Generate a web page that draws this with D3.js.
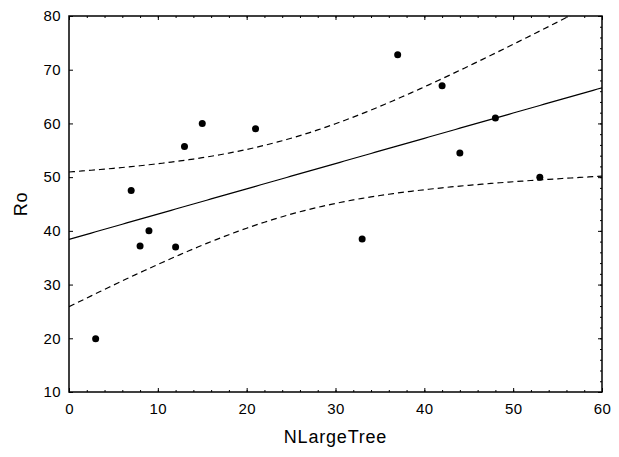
<!DOCTYPE html>
<html>
<head>
<meta charset="utf-8">
<script src="https://cdn.jsdelivr.net/npm/d3@7"></script>
<style>
  body { margin: 0; background: #fff; }
  text { font-family: "Liberation Sans", Arial, sans-serif; fill: #000; }
</style>
</head>
<body>
<div id="chart"></div>
<script>
// data
var nLargeTree = [3, 7, 8, 9, 12, 13, 15, 21, 33, 37, 42, 44, 48, 53];
var ro = [19.9, 47.5, 37.2, 40, 37, 55.7, 60, 59, 38.5, 72.8, 67, 54.5, 61, 50];
var xTicks = [0, 10, 20, 30, 40, 50, 60];
var yTicks = [10, 20, 30, 40, 50, 60, 70, 80];

var margin = {top: 16, right: 17, bottom: 65, left: 69},
    width = 619 - margin.left - margin.right,
    height = 457 - margin.top - margin.bottom;

var svg = d3.select("#chart").append("svg")
    .attr("width", 619)
    .attr("height", 457)
  .append("g")
    .attr("transform", "translate(" + margin.left + "," + margin.top + ")");

var x = d3.scaleLinear().domain([0, 60]).range([0, width]);
var y = d3.scaleLinear().domain([10, 80]).range([height, 0]);

// linear fit + 95% confidence band for the mean
var n = ro.length;
var mx = d3.mean(nLargeTree), my = d3.mean(ro);
var sxx = 0, sxy = 0;
nLargeTree.forEach(function(v, i) {
  sxx += (v - mx) * (v - mx);
  sxy += (v - mx) * (ro[i] - my);
});
var slope = sxy / sxx, icpt = my - slope * mx;
var sse = 0;
nLargeTree.forEach(function(v, i) {
  var r = ro[i] - (icpt + slope * v);
  sse += r * r;
});
var s = Math.sqrt(sse / (n - 2));
var t = 2.179; // t(0.975, 12)

var xs = d3.range(0, 60.01, 0.5);
var band = xs.map(function(v) {
  var fit = icpt + slope * v;
  var h = t * s * Math.sqrt(1 / n + (v - mx) * (v - mx) / sxx);
  return {x: v, fit: fit, lo: fit - h, hi: fit + h};
});

svg.append("clipPath").attr("id", "clip")
  .append("rect").attr("width", width).attr("height", height);

var plot = svg.append("g").attr("clip-path", "url(#clip)");

var fitLine = d3.line().x(function(d) { return x(d.x); }).y(function(d) { return y(d.fit); });
var hiLine = d3.line().x(function(d) { return x(d.x); }).y(function(d) { return y(d.hi); });
var loLine = d3.line().x(function(d) { return x(d.x); }).y(function(d) { return y(d.lo); });

plot.append("path").datum(band).attr("d", fitLine)
  .attr("fill", "none").attr("stroke", "#000").attr("stroke-width", 1.2);
plot.append("path").datum(band).attr("d", hiLine)
  .attr("fill", "none").attr("stroke", "#000").attr("stroke-width", 1.2)
  .attr("stroke-dasharray", "6,4");
plot.append("path").datum(band).attr("d", loLine)
  .attr("fill", "none").attr("stroke", "#000").attr("stroke-width", 1.2)
  .attr("stroke-dasharray", "6,4");

// points
svg.selectAll(".dot").data(ro).enter().append("circle")
  .attr("class", "dot")
  .attr("cx", function(d, i) { return x(nLargeTree[i]); })
  .attr("cy", function(d) { return y(d); })
  .attr("r", 3.5)
  .attr("fill", "#000");

// axes: ticks point inward
var minorX = d3.range(0, 61, 2), minorY = d3.range(10, 81, 2);

function styleAxis(g) {
  g.select(".domain").remove();
  g.selectAll("line").attr("stroke", "#000");
  g.selectAll("text").attr("font-size", "15px").attr("letter-spacing", "0.4px");
}

svg.append("g")
  .attr("transform", "translate(0," + height + ")")
  .call(d3.axisBottom(x).tickValues(minorX).tickSize(-2).tickFormat(""))
  .call(styleAxis);
svg.append("g")
  .attr("transform", "translate(0," + height + ")")
  .call(d3.axisBottom(x).tickValues(xTicks).tickSize(-4).tickPadding(11).tickFormat(d3.format("d")))
  .call(styleAxis);

svg.append("g")
  .call(d3.axisTop(x).tickValues(minorX).tickSize(-2).tickFormat(""))
  .call(styleAxis);
svg.append("g")
  .call(d3.axisTop(x).tickValues(xTicks).tickSize(-4).tickFormat(""))
  .call(styleAxis);

svg.append("g")
  .call(d3.axisLeft(y).tickValues(yTicks).tickSize(-4).tickPadding(8).tickFormat(d3.format("d")))
  .call(styleAxis);

svg.append("g")
  .attr("transform", "translate(" + width + ",0)")
  .call(d3.axisRight(y).tickValues(minorY).tickSize(-2).tickFormat(""))
  .call(styleAxis);
svg.append("g")
  .attr("transform", "translate(" + width + ",0)")
  .call(d3.axisRight(y).tickValues(yTicks).tickSize(-4).tickFormat(""))
  .call(styleAxis);

// frame
svg.append("rect")
  .attr("width", width).attr("height", height)
  .attr("fill", "none").attr("stroke", "#000").attr("stroke-width", 1.5);

// axis titles
svg.append("text")
  .attr("x", width / 2).attr("y", height + 51)
  .attr("text-anchor", "middle")
  .attr("font-size", "18px")
  .attr("letter-spacing", "0.8px")
  .text("NLargeTree");

svg.append("text")
  .attr("transform", "translate(" + (-42) + "," + (height / 2) + ") rotate(-90)")
  .attr("text-anchor", "middle")
  .attr("font-size", "18px")
  .attr("letter-spacing", "0.8px")
  .text("Ro");
</script>
</body>
</html>
